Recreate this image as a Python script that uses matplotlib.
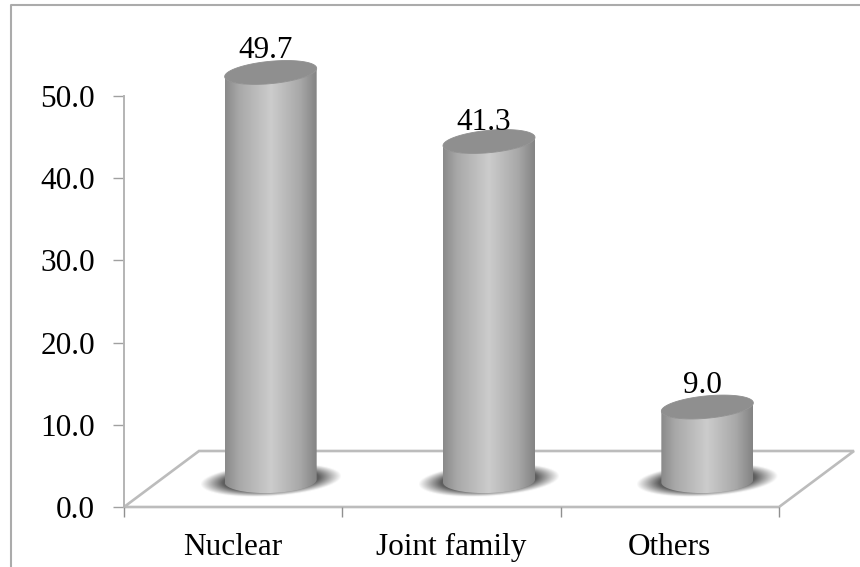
import numpy as np
import matplotlib
matplotlib.use('Agg')
import matplotlib.pyplot as plt
from matplotlib.colors import LinearSegmentedColormap
from matplotlib.lines import Line2D
from matplotlib.patches import PathPatch, Polygon
from matplotlib.path import Path

categories = ['Nuclear', 'Joint family', 'Others']
values = [49.7, 41.3, 9.0]
y_ticks = [0, 10, 20, 30, 40, 50]

W, H = 860, 567
plt.rcParams['font.family'] = ['Liberation Serif', 'DejaVu Serif']
fs = 22.5

fig = plt.figure(figsize=(W / 100, H / 100), dpi=100)
left, right, top, bottom = 124, 779, 96, 507
ax = fig.add_axes([left / W, 1 - bottom / H, (right - left) / W, (bottom - top) / H])
ax.set_xlim(0, 3)
ax.set_ylim(0, 50)

# pixel sizes in data units, the fake 3D is all worked out in pixels
px_x = 3 / (right - left)
px_y = 50 / (bottom - top)
depth_x, depth_y = 75, 56
grey = '#bcbcbc'

# outer chart border, open on the right
fig.add_artist(Line2D([11 / W, 11 / W, 1], [0, 1 - 5 / H, 1 - 5 / H],
                      color='#ababab', lw=1.5))

# floor
floor = [(0, 0), (depth_x * px_x, depth_y * px_y),
         (3 + depth_x * px_x, depth_y * px_y), (3, 0)]
ax.add_patch(Polygon(floor, closed=True, fc='white', ec=grey, lw=1.9, clip_on=False, zorder=1))

for s in ['top', 'right', 'bottom']:
    ax.spines[s].set_visible(False)
ax.spines['left'].set_color('#b4b4b4')
ax.spines['left'].set_linewidth(1.4)
ax.set_yticks(y_ticks)
ax.set_yticklabels(['%.1f' % t for t in y_ticks], fontsize=fs)
ax.set_xticks([0, 1, 2, 3])
ax.set_xticklabels([])
ax.tick_params(axis='y', length=8, width=1, color='#a0a0a0', pad=13)
ax.tick_params(axis='x', length=7, width=1, color='#909090')
ax.patch.set_alpha(0)

for i, c in enumerate(categories):
    ax.annotate(c, (i + 0.5, 0), xytext=(0, -48), textcoords='offset pixels',
                ha='center', va='baseline', fontsize=fs, annotation_clip=False)

cyl_cmap = LinearSegmentedColormap.from_list(
    'cyl', [(0, '#8a8a8a'), (0.15, '#a8a8a8'), (0.5, '#cccccc'), (0.82, '#a8a8a8'), (1, '#848484')])
shadow_cmap = LinearSegmentedColormap.from_list('shadow', ['#4c4c4c', '#4c4c4c'])

a = 46.0
cap_b, cap_k = 11.2, 0.09
base_b, base_k = 12.0, 0.03
t = np.linspace(0, 2 * np.pi, 121)
label_lift = [14.5, 11.5, 14.0]


def to_data(cx, cy, x_px, y_px):
    return cx + x_px * px_x, cy + y_px * px_y


for i, (c, v) in enumerate(zip(categories, values)):
    cx = i + 0.5 + 37.5 * px_x
    base = 26 * px_y
    top_y = base + v

    # soft shadow on the floor
    sx = np.linspace(-75, 75, 151)
    sy = np.linspace(-26, 26, 53)
    gx, gy = np.meshgrid(sx, sy)
    r = np.hypot(gx / 71, (gy - 0.06 * gx - 1) / 16.5)
    alpha = np.clip((1.0 - r) / 0.32, 0, 1) * 0.9
    ax.imshow(np.ones_like(gx), cmap=shadow_cmap, alpha=alpha, aspect='auto', origin='lower',
              extent=[cx - 75 * px_x, cx + 75 * px_x, base - 26 * px_y, base + 26 * px_y],
              zorder=2, interpolation='bilinear')

    # cylinder side: front half of the base, up the side, front half of the cap
    low = t[60:121]
    lx = a * np.cos(low)
    bx, by = to_data(cx, base, lx, base_b * np.sin(low) + base_k * lx)
    tx, ty = to_data(cx, top_y, lx[::-1], (cap_b * np.sin(low) + cap_k * lx)[::-1])
    verts = np.column_stack([np.r_[bx, tx], np.r_[by, ty]])
    clip = PathPatch(Path(np.vstack([verts, verts[0]])), fc='none', ec='none',
                     transform=ax.transData)
    ax.add_patch(clip)
    clip.set_clip_on(False)
    im = ax.imshow(np.linspace(0, 1, 200).reshape(1, -1), cmap=cyl_cmap, vmin=0, vmax=1,
                   aspect='auto', origin='lower', zorder=3,
                   extent=[cx - a * px_x, cx + a * px_x, 0, top_y + 15 * px_y])
    im.set_clip_box(fig.bbox)
    im.set_clip_path(clip)

    # top cap
    ex = a * np.cos(t)
    qx, qy = to_data(cx, top_y, ex, cap_b * np.sin(t) + cap_k * ex)
    ax.fill(qx, qy, color='#8f8f8f', lw=0.6, zorder=4, clip_on=False)

    ax.annotate('%.1f' % v, (cx, top_y), xytext=(-5, label_lift[i]), textcoords='offset pixels',
                ha='center', va='baseline', fontsize=fs, zorder=5, annotation_clip=False)

ax.set_xlim(0, 3)
ax.set_ylim(0, 50)

fig.savefig('out.png', dpi=100)
